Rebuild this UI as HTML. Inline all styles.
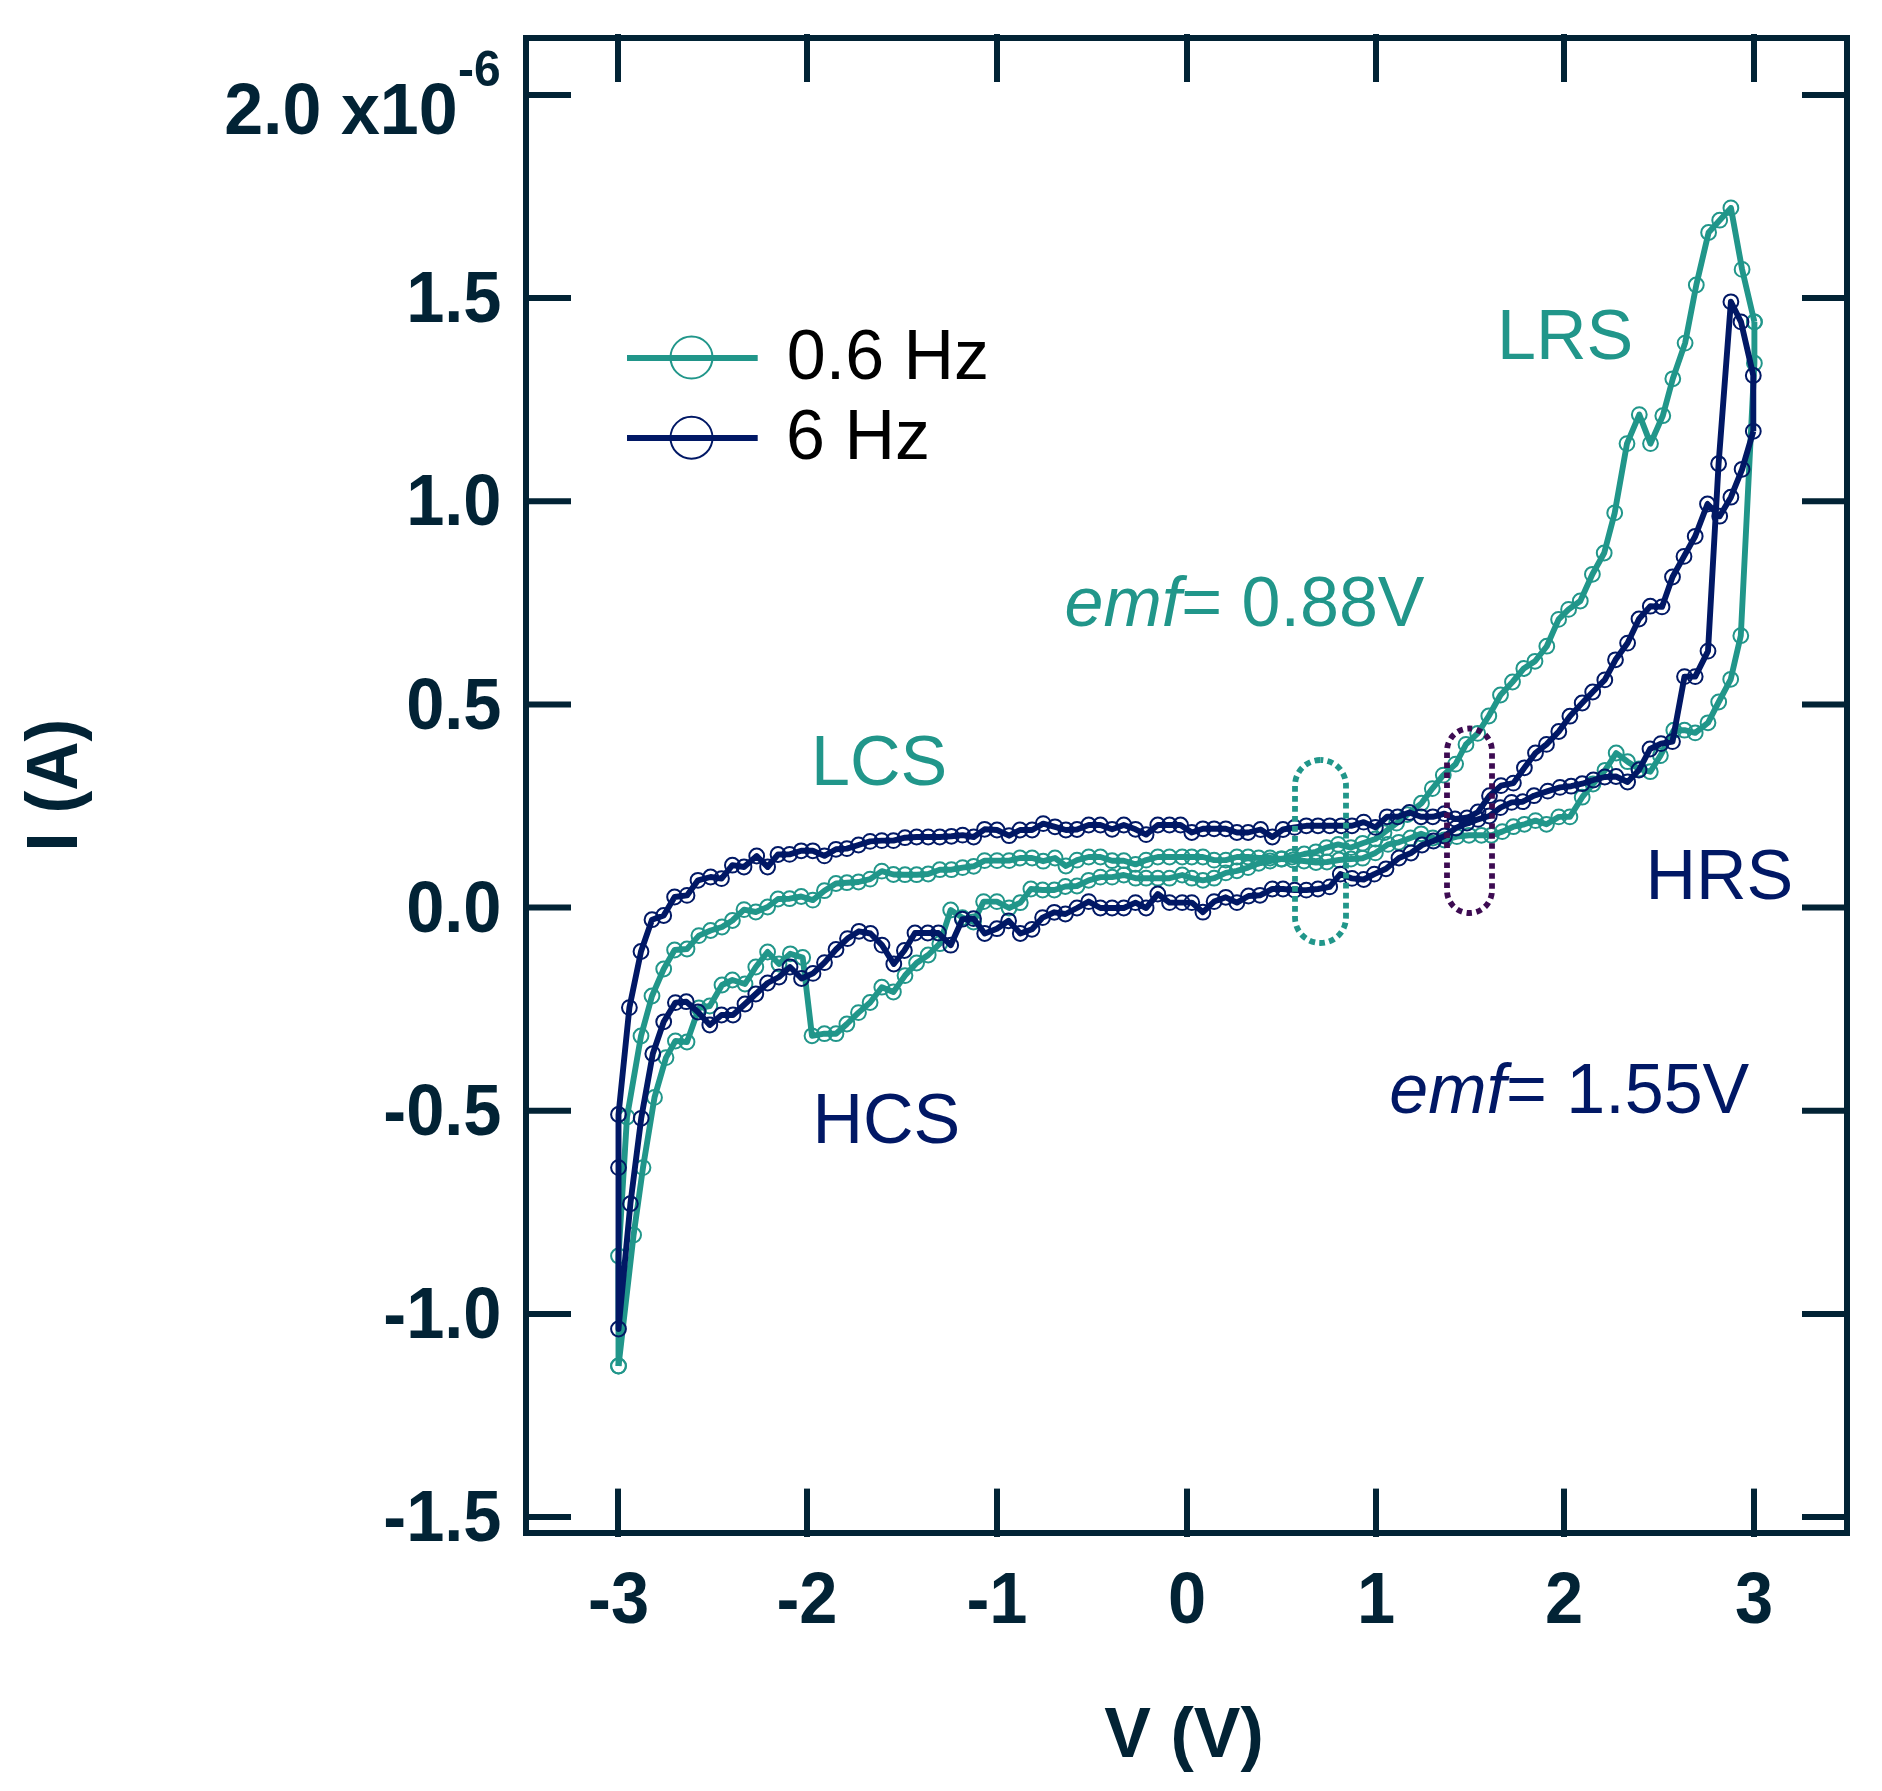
<!DOCTYPE html>
<html><head><meta charset="utf-8"><title>I-V curve</title>
<style>html,body{margin:0;padding:0;background:#fff;overflow:hidden}svg{display:block}</style>
</head><body>
<svg width="1882" height="1791" viewBox="0 0 1882 1791">
<rect width="1882" height="1791" fill="#fff"/>
<g>
<polyline points="1754.4,321.9 1742.1,269.4 1730.9,207.9 1719.7,220.2 1708.6,232.5 1696.3,285.0 1685.1,343.1 1672.8,378.8 1662.8,415.7 1650.5,443.6 1639.3,414.6 1627.0,443.6 1614.7,512.9 1604.2,553.0 1592.4,574.3 1580.3,601.0 1568.6,609.4 1558.6,619.4 1546.8,646.2 1535.0,661.3 1523.8,668.5 1512.5,682.0 1500.5,695.0 1488.8,716.0 1477.7,733.4 1466.0,744.4 1455.6,764.1 1443.3,775.1 1432.3,788.6 1421.5,803.2 1407.3,814.6 1396.6,823.1 1384.0,832.7 1375.4,839.0 1362.6,843.3 1351.0,847.6 1338.2,844.4 1326.5,847.6 1315.9,851.8 1304.2,854.0 1292.0,857.0 1281.0,859.0 1270.0,861.0 1258.7,863.3 1248.1,867.6 1236.9,870.8 1225.8,872.9 1214.1,878.2 1202.9,880.3 1191.8,878.2 1182.2,875.0 1169.5,878.2 1157.8,878.2 1146.1,878.2 1135.5,878.2 1123.8,875.0 1112.1,877.1 1100.4,877.1 1088.7,880.3 1077.0,886.0 1065.3,886.5 1054.3,890.0 1042.6,890.0 1030.9,889.0 1020.3,902.7 1009.1,908.0 996.9,901.6 983.6,901.6 973.5,922.0 962.4,917.6 950.7,910.0 939.8,943.7 928.2,955.0 916.6,963.0 905.0,975.6 893.4,992.0 881.8,987.2 870.1,1002.5 858.5,1012.6 846.9,1024.0 836.0,1033.7 824.4,1033.7 812.0,1035.8 802.7,957.5 790.3,953.8 779.0,964.0 767.6,952.0 755.8,967.0 745.0,984.0 732.4,980.0 722.0,985.0 709.8,1006.0 698.9,1008.0 687.0,1042.0 675.4,1041.0 666.0,1057.6 654.5,1097.4 643.0,1167.6 633.6,1235.0 618.5,1366.0" fill="none" stroke="#21968a" stroke-width="5.9" stroke-linejoin="round" stroke-linecap="butt"/><g fill="none" stroke="#21968a" stroke-width="2.0"><circle cx="1754.4" cy="321.9" r="7.4"/><circle cx="1742.1" cy="269.4" r="7.4"/><circle cx="1730.9" cy="207.9" r="7.4"/><circle cx="1719.7" cy="220.2" r="7.4"/><circle cx="1708.6" cy="232.5" r="7.4"/><circle cx="1696.3" cy="285.0" r="7.4"/><circle cx="1685.1" cy="343.1" r="7.4"/><circle cx="1672.8" cy="378.8" r="7.4"/><circle cx="1662.8" cy="415.7" r="7.4"/><circle cx="1650.5" cy="443.6" r="7.4"/><circle cx="1639.3" cy="414.6" r="7.4"/><circle cx="1627.0" cy="443.6" r="7.4"/><circle cx="1614.7" cy="512.9" r="7.4"/><circle cx="1604.2" cy="553.0" r="7.4"/><circle cx="1592.4" cy="574.3" r="7.4"/><circle cx="1580.3" cy="601.0" r="7.4"/><circle cx="1568.6" cy="609.4" r="7.4"/><circle cx="1558.6" cy="619.4" r="7.4"/><circle cx="1546.8" cy="646.2" r="7.4"/><circle cx="1535.0" cy="661.3" r="7.4"/><circle cx="1523.8" cy="668.5" r="7.4"/><circle cx="1512.5" cy="682.0" r="7.4"/><circle cx="1500.5" cy="695.0" r="7.4"/><circle cx="1488.8" cy="716.0" r="7.4"/><circle cx="1477.7" cy="733.4" r="7.4"/><circle cx="1466.0" cy="744.4" r="7.4"/><circle cx="1455.6" cy="764.1" r="7.4"/><circle cx="1443.3" cy="775.1" r="7.4"/><circle cx="1432.3" cy="788.6" r="7.4"/><circle cx="1421.5" cy="803.2" r="7.4"/><circle cx="1407.3" cy="814.6" r="7.4"/><circle cx="1396.6" cy="823.1" r="7.4"/><circle cx="1384.0" cy="832.7" r="7.4"/><circle cx="1375.4" cy="839.0" r="7.4"/><circle cx="1362.6" cy="843.3" r="7.4"/><circle cx="1351.0" cy="847.6" r="7.4"/><circle cx="1338.2" cy="844.4" r="7.4"/><circle cx="1326.5" cy="847.6" r="7.4"/><circle cx="1315.9" cy="851.8" r="7.4"/><circle cx="1304.2" cy="854.0" r="7.4"/><circle cx="1292.0" cy="857.0" r="7.4"/><circle cx="1281.0" cy="859.0" r="7.4"/><circle cx="1270.0" cy="861.0" r="7.4"/><circle cx="1258.7" cy="863.3" r="7.4"/><circle cx="1248.1" cy="867.6" r="7.4"/><circle cx="1236.9" cy="870.8" r="7.4"/><circle cx="1225.8" cy="872.9" r="7.4"/><circle cx="1214.1" cy="878.2" r="7.4"/><circle cx="1202.9" cy="880.3" r="7.4"/><circle cx="1191.8" cy="878.2" r="7.4"/><circle cx="1182.2" cy="875.0" r="7.4"/><circle cx="1169.5" cy="878.2" r="7.4"/><circle cx="1157.8" cy="878.2" r="7.4"/><circle cx="1146.1" cy="878.2" r="7.4"/><circle cx="1135.5" cy="878.2" r="7.4"/><circle cx="1123.8" cy="875.0" r="7.4"/><circle cx="1112.1" cy="877.1" r="7.4"/><circle cx="1100.4" cy="877.1" r="7.4"/><circle cx="1088.7" cy="880.3" r="7.4"/><circle cx="1077.0" cy="886.0" r="7.4"/><circle cx="1065.3" cy="886.5" r="7.4"/><circle cx="1054.3" cy="890.0" r="7.4"/><circle cx="1042.6" cy="890.0" r="7.4"/><circle cx="1030.9" cy="889.0" r="7.4"/><circle cx="1020.3" cy="902.7" r="7.4"/><circle cx="1009.1" cy="908.0" r="7.4"/><circle cx="996.9" cy="901.6" r="7.4"/><circle cx="983.6" cy="901.6" r="7.4"/><circle cx="973.5" cy="922.0" r="7.4"/><circle cx="962.4" cy="917.6" r="7.4"/><circle cx="950.7" cy="910.0" r="7.4"/><circle cx="939.8" cy="943.7" r="7.4"/><circle cx="928.2" cy="955.0" r="7.4"/><circle cx="916.6" cy="963.0" r="7.4"/><circle cx="905.0" cy="975.6" r="7.4"/><circle cx="893.4" cy="992.0" r="7.4"/><circle cx="881.8" cy="987.2" r="7.4"/><circle cx="870.1" cy="1002.5" r="7.4"/><circle cx="858.5" cy="1012.6" r="7.4"/><circle cx="846.9" cy="1024.0" r="7.4"/><circle cx="836.0" cy="1033.7" r="7.4"/><circle cx="824.4" cy="1033.7" r="7.4"/><circle cx="812.0" cy="1035.8" r="7.4"/><circle cx="802.7" cy="957.5" r="7.4"/><circle cx="790.3" cy="953.8" r="7.4"/><circle cx="779.0" cy="964.0" r="7.4"/><circle cx="767.6" cy="952.0" r="7.4"/><circle cx="755.8" cy="967.0" r="7.4"/><circle cx="745.0" cy="984.0" r="7.4"/><circle cx="732.4" cy="980.0" r="7.4"/><circle cx="722.0" cy="985.0" r="7.4"/><circle cx="709.8" cy="1006.0" r="7.4"/><circle cx="698.9" cy="1008.0" r="7.4"/><circle cx="687.0" cy="1042.0" r="7.4"/><circle cx="675.4" cy="1041.0" r="7.4"/><circle cx="666.0" cy="1057.6" r="7.4"/><circle cx="654.5" cy="1097.4" r="7.4"/><circle cx="643.0" cy="1167.6" r="7.4"/><circle cx="633.6" cy="1235.0" r="7.4"/><circle cx="618.5" cy="1366.0" r="7.4"/></g>
<polyline points="1754.4,321.9 1754.4,363.2 1740.8,635.7 1730.7,679.3 1718.7,702.0 1708.0,722.8 1695.2,732.9 1684.5,730.2 1673.8,730.2 1660.4,755.6 1650.3,771.7 1639.0,769.0 1627.6,761.7 1616.2,753.0 1605.0,770.3 1593.0,784.0 1582.2,797.2 1569.9,816.9 1558.8,816.9 1546.5,824.3 1535.5,820.6 1524.4,824.3 1513.4,826.7 1502.3,831.6 1491.3,835.3 1481.4,835.3 1469.0,835.3 1456.9,836.6 1444.5,840.0 1432.8,838.0 1421.1,833.8 1410.5,838.0 1398.8,842.3 1388.0,844.4 1375.4,852.9 1362.6,858.2 1351.0,859.0 1339.0,860.0 1327.0,862.0 1316.0,862.5 1304.0,861.0 1293.0,860.0 1282.0,859.0 1270.0,858.0 1258.7,858.0 1248.1,857.0 1236.9,857.0 1225.8,860.1 1214.1,860.1 1202.9,857.0 1191.8,857.0 1182.2,857.0 1169.5,857.0 1157.8,857.0 1146.1,860.1 1135.5,864.4 1123.8,860.7 1112.1,860.7 1100.4,857.0 1088.7,857.0 1077.0,860.1 1065.9,866.0 1055.0,858.0 1043.2,861.2 1032.1,858.0 1020.0,858.0 1009.1,860.6 997.0,860.6 984.6,860.6 973.7,866.3 962.6,867.6 951.4,869.7 939.8,869.7 928.2,874.0 916.6,874.7 905.0,874.7 893.4,874.5 881.8,871.1 870.1,879.1 858.5,882.0 846.9,882.7 836.0,883.5 824.4,890.7 812.8,900.1 801.2,896.5 789.6,898.7 778.0,899.0 767.6,907.0 755.8,912.0 744.0,909.6 732.4,920.5 722.0,927.0 710.6,930.5 698.9,935.6 687.0,949.0 674.6,950.0 663.7,969.0 652.0,996.0 641.0,1036.0 627.0,1117.0 618.5,1256.0 618.5,1366.0" fill="none" stroke="#21968a" stroke-width="5.9" stroke-linejoin="round" stroke-linecap="butt"/><g fill="none" stroke="#21968a" stroke-width="2.0"><circle cx="1754.4" cy="321.9" r="7.4"/><circle cx="1754.4" cy="363.2" r="7.4"/><circle cx="1740.8" cy="635.7" r="7.4"/><circle cx="1730.7" cy="679.3" r="7.4"/><circle cx="1718.7" cy="702.0" r="7.4"/><circle cx="1708.0" cy="722.8" r="7.4"/><circle cx="1695.2" cy="732.9" r="7.4"/><circle cx="1684.5" cy="730.2" r="7.4"/><circle cx="1673.8" cy="730.2" r="7.4"/><circle cx="1660.4" cy="755.6" r="7.4"/><circle cx="1650.3" cy="771.7" r="7.4"/><circle cx="1639.0" cy="769.0" r="7.4"/><circle cx="1627.6" cy="761.7" r="7.4"/><circle cx="1616.2" cy="753.0" r="7.4"/><circle cx="1605.0" cy="770.3" r="7.4"/><circle cx="1593.0" cy="784.0" r="7.4"/><circle cx="1582.2" cy="797.2" r="7.4"/><circle cx="1569.9" cy="816.9" r="7.4"/><circle cx="1558.8" cy="816.9" r="7.4"/><circle cx="1546.5" cy="824.3" r="7.4"/><circle cx="1535.5" cy="820.6" r="7.4"/><circle cx="1524.4" cy="824.3" r="7.4"/><circle cx="1513.4" cy="826.7" r="7.4"/><circle cx="1502.3" cy="831.6" r="7.4"/><circle cx="1491.3" cy="835.3" r="7.4"/><circle cx="1481.4" cy="835.3" r="7.4"/><circle cx="1469.0" cy="835.3" r="7.4"/><circle cx="1456.9" cy="836.6" r="7.4"/><circle cx="1444.5" cy="840.0" r="7.4"/><circle cx="1432.8" cy="838.0" r="7.4"/><circle cx="1421.1" cy="833.8" r="7.4"/><circle cx="1410.5" cy="838.0" r="7.4"/><circle cx="1398.8" cy="842.3" r="7.4"/><circle cx="1388.0" cy="844.4" r="7.4"/><circle cx="1375.4" cy="852.9" r="7.4"/><circle cx="1362.6" cy="858.2" r="7.4"/><circle cx="1351.0" cy="859.0" r="7.4"/><circle cx="1339.0" cy="860.0" r="7.4"/><circle cx="1327.0" cy="862.0" r="7.4"/><circle cx="1316.0" cy="862.5" r="7.4"/><circle cx="1304.0" cy="861.0" r="7.4"/><circle cx="1293.0" cy="860.0" r="7.4"/><circle cx="1282.0" cy="859.0" r="7.4"/><circle cx="1270.0" cy="858.0" r="7.4"/><circle cx="1258.7" cy="858.0" r="7.4"/><circle cx="1248.1" cy="857.0" r="7.4"/><circle cx="1236.9" cy="857.0" r="7.4"/><circle cx="1225.8" cy="860.1" r="7.4"/><circle cx="1214.1" cy="860.1" r="7.4"/><circle cx="1202.9" cy="857.0" r="7.4"/><circle cx="1191.8" cy="857.0" r="7.4"/><circle cx="1182.2" cy="857.0" r="7.4"/><circle cx="1169.5" cy="857.0" r="7.4"/><circle cx="1157.8" cy="857.0" r="7.4"/><circle cx="1146.1" cy="860.1" r="7.4"/><circle cx="1135.5" cy="864.4" r="7.4"/><circle cx="1123.8" cy="860.7" r="7.4"/><circle cx="1112.1" cy="860.7" r="7.4"/><circle cx="1100.4" cy="857.0" r="7.4"/><circle cx="1088.7" cy="857.0" r="7.4"/><circle cx="1077.0" cy="860.1" r="7.4"/><circle cx="1065.9" cy="866.0" r="7.4"/><circle cx="1055.0" cy="858.0" r="7.4"/><circle cx="1043.2" cy="861.2" r="7.4"/><circle cx="1032.1" cy="858.0" r="7.4"/><circle cx="1020.0" cy="858.0" r="7.4"/><circle cx="1009.1" cy="860.6" r="7.4"/><circle cx="997.0" cy="860.6" r="7.4"/><circle cx="984.6" cy="860.6" r="7.4"/><circle cx="973.7" cy="866.3" r="7.4"/><circle cx="962.6" cy="867.6" r="7.4"/><circle cx="951.4" cy="869.7" r="7.4"/><circle cx="939.8" cy="869.7" r="7.4"/><circle cx="928.2" cy="874.0" r="7.4"/><circle cx="916.6" cy="874.7" r="7.4"/><circle cx="905.0" cy="874.7" r="7.4"/><circle cx="893.4" cy="874.5" r="7.4"/><circle cx="881.8" cy="871.1" r="7.4"/><circle cx="870.1" cy="879.1" r="7.4"/><circle cx="858.5" cy="882.0" r="7.4"/><circle cx="846.9" cy="882.7" r="7.4"/><circle cx="836.0" cy="883.5" r="7.4"/><circle cx="824.4" cy="890.7" r="7.4"/><circle cx="812.8" cy="900.1" r="7.4"/><circle cx="801.2" cy="896.5" r="7.4"/><circle cx="789.6" cy="898.7" r="7.4"/><circle cx="778.0" cy="899.0" r="7.4"/><circle cx="767.6" cy="907.0" r="7.4"/><circle cx="755.8" cy="912.0" r="7.4"/><circle cx="744.0" cy="909.6" r="7.4"/><circle cx="732.4" cy="920.5" r="7.4"/><circle cx="722.0" cy="927.0" r="7.4"/><circle cx="710.6" cy="930.5" r="7.4"/><circle cx="698.9" cy="935.6" r="7.4"/><circle cx="687.0" cy="949.0" r="7.4"/><circle cx="674.6" cy="950.0" r="7.4"/><circle cx="663.7" cy="969.0" r="7.4"/><circle cx="652.0" cy="996.0" r="7.4"/><circle cx="641.0" cy="1036.0" r="7.4"/><circle cx="627.0" cy="1117.0" r="7.4"/><circle cx="618.5" cy="1256.0" r="7.4"/><circle cx="618.5" cy="1366.0" r="7.4"/></g>
<polyline points="1753.3,431.3 1742.1,469.3 1730.9,497.2 1719.7,516.2 1707.5,504.0 1695.2,536.3 1684.0,556.4 1672.5,577.0 1662.0,606.9 1650.3,606.2 1639.0,619.0 1627.6,643.1 1615.5,659.8 1604.8,679.9 1592.7,692.0 1582.2,703.0 1569.9,716.2 1558.8,731.5 1546.5,744.4 1535.5,753.0 1524.4,767.8 1513.4,783.1 1501.0,785.6 1489.5,795.7 1478.0,812.0 1467.0,818.0 1455.0,819.0 1444.5,813.6 1432.8,816.8 1421.1,816.8 1409.4,812.5 1397.7,816.8 1387.0,816.8 1375.4,827.4 1363.7,822.1 1352.0,825.8 1341.4,825.8 1329.7,825.8 1318.0,825.8 1306.3,825.8 1294.6,827.4 1283.0,829.5 1272.3,837.0 1260.6,829.5 1248.1,832.5 1236.9,832.5 1225.8,828.8 1214.1,828.8 1202.9,828.8 1191.8,832.5 1180.5,825.0 1169.5,825.0 1157.8,825.0 1146.1,834.6 1135.5,829.3 1123.8,825.0 1112.1,829.3 1100.4,825.0 1088.7,825.0 1077.0,829.5 1065.9,830.0 1055.0,826.8 1043.2,823.6 1032.1,830.0 1020.0,830.0 1009.1,835.7 997.0,830.0 984.6,829.3 973.7,837.0 962.6,835.1 951.4,836.3 939.8,837.0 928.2,837.0 916.6,837.0 905.0,837.7 893.4,840.6 881.8,840.6 870.1,841.4 858.5,845.0 846.9,848.6 836.0,849.3 824.4,855.9 812.8,850.8 801.2,850.8 789.6,854.4 778.0,854.5 767.6,867.0 756.7,856.0 744.0,867.0 732.4,865.2 721.5,878.6 710.6,877.0 698.0,880.3 687.0,895.4 674.6,897.0 663.7,915.5 652.0,919.7 641.0,951.5 629.4,1007.6 618.5,1114.5 618.5,1167.6 618.5,1329.0 630.4,1203.7 641.2,1118.3 652.8,1053.7 663.7,1021.8 675.4,1002.6 686.3,1001.7 698.0,1012.0 709.8,1025.0 721.5,1015.0 733.0,1015.0 745.0,1004.0 755.8,994.0 767.6,983.0 779.0,977.0 790.0,967.0 801.5,978.5 813.0,973.4 824.5,962.6 836.0,949.5 847.5,938.6 859.0,931.3 870.5,933.5 882.0,945.1 893.8,964.0 904.4,950.5 915.0,933.0 927.8,933.0 938.4,933.0 950.7,945.2 962.4,919.2 973.5,918.6 984.7,933.5 996.9,928.7 1008.6,920.8 1020.3,933.5 1032.0,929.3 1042.6,917.6 1054.3,912.3 1065.4,914.0 1077.0,908.0 1088.7,901.6 1100.4,908.0 1112.1,908.0 1123.8,908.0 1135.5,902.6 1146.1,908.0 1157.8,894.0 1169.5,902.6 1182.2,902.6 1191.8,902.6 1202.9,912.2 1214.1,901.6 1225.8,897.3 1236.9,902.6 1248.5,896.0 1260.0,895.3 1272.3,889.0 1283.0,889.0 1294.6,890.1 1306.3,890.1 1318.0,889.0 1329.7,886.9 1340.3,874.1 1352.0,878.4 1363.7,879.5 1374.3,874.1 1386.0,868.8 1399.0,858.0 1411.0,853.0 1422.0,845.0 1433.5,841.0 1444.5,836.0 1456.0,828.0 1467.0,823.0 1478.0,819.4 1489.3,816.0 1500.4,807.6 1511.6,802.4 1522.8,801.7 1534.0,795.7 1547.8,791.1 1560.0,787.4 1571.1,786.2 1582.2,783.7 1593.4,780.0 1604.8,777.0 1616.0,776.5 1627.6,782.0 1639.0,770.0 1650.0,749.0 1661.0,743.6 1672.5,741.6 1684.5,676.6 1695.2,676.6 1708.0,651.1 1718.6,463.7 1730.9,301.8 1741.0,321.9 1753.3,375.5 1753.3,431.3" fill="none" stroke="#011865" stroke-width="5.9" stroke-linejoin="round" stroke-linecap="butt"/><g fill="none" stroke="#011865" stroke-width="2.0"><circle cx="1753.3" cy="431.3" r="7.4"/><circle cx="1742.1" cy="469.3" r="7.4"/><circle cx="1730.9" cy="497.2" r="7.4"/><circle cx="1719.7" cy="516.2" r="7.4"/><circle cx="1707.5" cy="504.0" r="7.4"/><circle cx="1695.2" cy="536.3" r="7.4"/><circle cx="1684.0" cy="556.4" r="7.4"/><circle cx="1672.5" cy="577.0" r="7.4"/><circle cx="1662.0" cy="606.9" r="7.4"/><circle cx="1650.3" cy="606.2" r="7.4"/><circle cx="1639.0" cy="619.0" r="7.4"/><circle cx="1627.6" cy="643.1" r="7.4"/><circle cx="1615.5" cy="659.8" r="7.4"/><circle cx="1604.8" cy="679.9" r="7.4"/><circle cx="1592.7" cy="692.0" r="7.4"/><circle cx="1582.2" cy="703.0" r="7.4"/><circle cx="1569.9" cy="716.2" r="7.4"/><circle cx="1558.8" cy="731.5" r="7.4"/><circle cx="1546.5" cy="744.4" r="7.4"/><circle cx="1535.5" cy="753.0" r="7.4"/><circle cx="1524.4" cy="767.8" r="7.4"/><circle cx="1513.4" cy="783.1" r="7.4"/><circle cx="1501.0" cy="785.6" r="7.4"/><circle cx="1489.5" cy="795.7" r="7.4"/><circle cx="1478.0" cy="812.0" r="7.4"/><circle cx="1467.0" cy="818.0" r="7.4"/><circle cx="1455.0" cy="819.0" r="7.4"/><circle cx="1444.5" cy="813.6" r="7.4"/><circle cx="1432.8" cy="816.8" r="7.4"/><circle cx="1421.1" cy="816.8" r="7.4"/><circle cx="1409.4" cy="812.5" r="7.4"/><circle cx="1397.7" cy="816.8" r="7.4"/><circle cx="1387.0" cy="816.8" r="7.4"/><circle cx="1375.4" cy="827.4" r="7.4"/><circle cx="1363.7" cy="822.1" r="7.4"/><circle cx="1352.0" cy="825.8" r="7.4"/><circle cx="1341.4" cy="825.8" r="7.4"/><circle cx="1329.7" cy="825.8" r="7.4"/><circle cx="1318.0" cy="825.8" r="7.4"/><circle cx="1306.3" cy="825.8" r="7.4"/><circle cx="1294.6" cy="827.4" r="7.4"/><circle cx="1283.0" cy="829.5" r="7.4"/><circle cx="1272.3" cy="837.0" r="7.4"/><circle cx="1260.6" cy="829.5" r="7.4"/><circle cx="1248.1" cy="832.5" r="7.4"/><circle cx="1236.9" cy="832.5" r="7.4"/><circle cx="1225.8" cy="828.8" r="7.4"/><circle cx="1214.1" cy="828.8" r="7.4"/><circle cx="1202.9" cy="828.8" r="7.4"/><circle cx="1191.8" cy="832.5" r="7.4"/><circle cx="1180.5" cy="825.0" r="7.4"/><circle cx="1169.5" cy="825.0" r="7.4"/><circle cx="1157.8" cy="825.0" r="7.4"/><circle cx="1146.1" cy="834.6" r="7.4"/><circle cx="1135.5" cy="829.3" r="7.4"/><circle cx="1123.8" cy="825.0" r="7.4"/><circle cx="1112.1" cy="829.3" r="7.4"/><circle cx="1100.4" cy="825.0" r="7.4"/><circle cx="1088.7" cy="825.0" r="7.4"/><circle cx="1077.0" cy="829.5" r="7.4"/><circle cx="1065.9" cy="830.0" r="7.4"/><circle cx="1055.0" cy="826.8" r="7.4"/><circle cx="1043.2" cy="823.6" r="7.4"/><circle cx="1032.1" cy="830.0" r="7.4"/><circle cx="1020.0" cy="830.0" r="7.4"/><circle cx="1009.1" cy="835.7" r="7.4"/><circle cx="997.0" cy="830.0" r="7.4"/><circle cx="984.6" cy="829.3" r="7.4"/><circle cx="973.7" cy="837.0" r="7.4"/><circle cx="962.6" cy="835.1" r="7.4"/><circle cx="951.4" cy="836.3" r="7.4"/><circle cx="939.8" cy="837.0" r="7.4"/><circle cx="928.2" cy="837.0" r="7.4"/><circle cx="916.6" cy="837.0" r="7.4"/><circle cx="905.0" cy="837.7" r="7.4"/><circle cx="893.4" cy="840.6" r="7.4"/><circle cx="881.8" cy="840.6" r="7.4"/><circle cx="870.1" cy="841.4" r="7.4"/><circle cx="858.5" cy="845.0" r="7.4"/><circle cx="846.9" cy="848.6" r="7.4"/><circle cx="836.0" cy="849.3" r="7.4"/><circle cx="824.4" cy="855.9" r="7.4"/><circle cx="812.8" cy="850.8" r="7.4"/><circle cx="801.2" cy="850.8" r="7.4"/><circle cx="789.6" cy="854.4" r="7.4"/><circle cx="778.0" cy="854.5" r="7.4"/><circle cx="767.6" cy="867.0" r="7.4"/><circle cx="756.7" cy="856.0" r="7.4"/><circle cx="744.0" cy="867.0" r="7.4"/><circle cx="732.4" cy="865.2" r="7.4"/><circle cx="721.5" cy="878.6" r="7.4"/><circle cx="710.6" cy="877.0" r="7.4"/><circle cx="698.0" cy="880.3" r="7.4"/><circle cx="687.0" cy="895.4" r="7.4"/><circle cx="674.6" cy="897.0" r="7.4"/><circle cx="663.7" cy="915.5" r="7.4"/><circle cx="652.0" cy="919.7" r="7.4"/><circle cx="641.0" cy="951.5" r="7.4"/><circle cx="629.4" cy="1007.6" r="7.4"/><circle cx="618.5" cy="1114.5" r="7.4"/><circle cx="618.5" cy="1167.6" r="7.4"/><circle cx="618.5" cy="1329.0" r="7.4"/><circle cx="630.4" cy="1203.7" r="7.4"/><circle cx="641.2" cy="1118.3" r="7.4"/><circle cx="652.8" cy="1053.7" r="7.4"/><circle cx="663.7" cy="1021.8" r="7.4"/><circle cx="675.4" cy="1002.6" r="7.4"/><circle cx="686.3" cy="1001.7" r="7.4"/><circle cx="698.0" cy="1012.0" r="7.4"/><circle cx="709.8" cy="1025.0" r="7.4"/><circle cx="721.5" cy="1015.0" r="7.4"/><circle cx="733.0" cy="1015.0" r="7.4"/><circle cx="745.0" cy="1004.0" r="7.4"/><circle cx="755.8" cy="994.0" r="7.4"/><circle cx="767.6" cy="983.0" r="7.4"/><circle cx="779.0" cy="977.0" r="7.4"/><circle cx="790.0" cy="967.0" r="7.4"/><circle cx="801.5" cy="978.5" r="7.4"/><circle cx="813.0" cy="973.4" r="7.4"/><circle cx="824.5" cy="962.6" r="7.4"/><circle cx="836.0" cy="949.5" r="7.4"/><circle cx="847.5" cy="938.6" r="7.4"/><circle cx="859.0" cy="931.3" r="7.4"/><circle cx="870.5" cy="933.5" r="7.4"/><circle cx="882.0" cy="945.1" r="7.4"/><circle cx="893.8" cy="964.0" r="7.4"/><circle cx="904.4" cy="950.5" r="7.4"/><circle cx="915.0" cy="933.0" r="7.4"/><circle cx="927.8" cy="933.0" r="7.4"/><circle cx="938.4" cy="933.0" r="7.4"/><circle cx="950.7" cy="945.2" r="7.4"/><circle cx="962.4" cy="919.2" r="7.4"/><circle cx="973.5" cy="918.6" r="7.4"/><circle cx="984.7" cy="933.5" r="7.4"/><circle cx="996.9" cy="928.7" r="7.4"/><circle cx="1008.6" cy="920.8" r="7.4"/><circle cx="1020.3" cy="933.5" r="7.4"/><circle cx="1032.0" cy="929.3" r="7.4"/><circle cx="1042.6" cy="917.6" r="7.4"/><circle cx="1054.3" cy="912.3" r="7.4"/><circle cx="1065.4" cy="914.0" r="7.4"/><circle cx="1077.0" cy="908.0" r="7.4"/><circle cx="1088.7" cy="901.6" r="7.4"/><circle cx="1100.4" cy="908.0" r="7.4"/><circle cx="1112.1" cy="908.0" r="7.4"/><circle cx="1123.8" cy="908.0" r="7.4"/><circle cx="1135.5" cy="902.6" r="7.4"/><circle cx="1146.1" cy="908.0" r="7.4"/><circle cx="1157.8" cy="894.0" r="7.4"/><circle cx="1169.5" cy="902.6" r="7.4"/><circle cx="1182.2" cy="902.6" r="7.4"/><circle cx="1191.8" cy="902.6" r="7.4"/><circle cx="1202.9" cy="912.2" r="7.4"/><circle cx="1214.1" cy="901.6" r="7.4"/><circle cx="1225.8" cy="897.3" r="7.4"/><circle cx="1236.9" cy="902.6" r="7.4"/><circle cx="1248.5" cy="896.0" r="7.4"/><circle cx="1260.0" cy="895.3" r="7.4"/><circle cx="1272.3" cy="889.0" r="7.4"/><circle cx="1283.0" cy="889.0" r="7.4"/><circle cx="1294.6" cy="890.1" r="7.4"/><circle cx="1306.3" cy="890.1" r="7.4"/><circle cx="1318.0" cy="889.0" r="7.4"/><circle cx="1329.7" cy="886.9" r="7.4"/><circle cx="1340.3" cy="874.1" r="7.4"/><circle cx="1352.0" cy="878.4" r="7.4"/><circle cx="1363.7" cy="879.5" r="7.4"/><circle cx="1374.3" cy="874.1" r="7.4"/><circle cx="1386.0" cy="868.8" r="7.4"/><circle cx="1399.0" cy="858.0" r="7.4"/><circle cx="1411.0" cy="853.0" r="7.4"/><circle cx="1422.0" cy="845.0" r="7.4"/><circle cx="1433.5" cy="841.0" r="7.4"/><circle cx="1444.5" cy="836.0" r="7.4"/><circle cx="1456.0" cy="828.0" r="7.4"/><circle cx="1467.0" cy="823.0" r="7.4"/><circle cx="1478.0" cy="819.4" r="7.4"/><circle cx="1489.3" cy="816.0" r="7.4"/><circle cx="1500.4" cy="807.6" r="7.4"/><circle cx="1511.6" cy="802.4" r="7.4"/><circle cx="1522.8" cy="801.7" r="7.4"/><circle cx="1534.0" cy="795.7" r="7.4"/><circle cx="1547.8" cy="791.1" r="7.4"/><circle cx="1560.0" cy="787.4" r="7.4"/><circle cx="1571.1" cy="786.2" r="7.4"/><circle cx="1582.2" cy="783.7" r="7.4"/><circle cx="1593.4" cy="780.0" r="7.4"/><circle cx="1604.8" cy="777.0" r="7.4"/><circle cx="1616.0" cy="776.5" r="7.4"/><circle cx="1627.6" cy="782.0" r="7.4"/><circle cx="1639.0" cy="770.0" r="7.4"/><circle cx="1650.0" cy="749.0" r="7.4"/><circle cx="1661.0" cy="743.6" r="7.4"/><circle cx="1672.5" cy="741.6" r="7.4"/><circle cx="1684.5" cy="676.6" r="7.4"/><circle cx="1695.2" cy="676.6" r="7.4"/><circle cx="1708.0" cy="651.1" r="7.4"/><circle cx="1718.6" cy="463.7" r="7.4"/><circle cx="1730.9" cy="301.8" r="7.4"/><circle cx="1741.0" cy="321.9" r="7.4"/><circle cx="1753.3" cy="375.5" r="7.4"/></g>
</g>
<rect x="1295" y="760" width="51" height="183" rx="25.5" ry="25.5" fill="none" stroke="#21968a" stroke-width="5.8" stroke-dasharray="5.8 4.2" stroke-dashoffset="2.9"/>
<rect x="1447" y="728.5" width="45" height="184.5" rx="22.5" ry="22.5" fill="none" stroke="#3d0b52" stroke-width="5.8" stroke-dasharray="5.5 4.5" stroke-dashoffset="2.75"/>
<g stroke="#022335" stroke-width="6" fill="none">
<rect x="526" y="38" width="1321" height="1495"/>
<line x1="618" y1="1488.6" x2="618" y2="1537"/><line x1="618" y1="34" x2="618" y2="82"/><line x1="807" y1="1488.6" x2="807" y2="1537"/><line x1="807" y1="34" x2="807" y2="82"/><line x1="997" y1="1488.6" x2="997" y2="1537"/><line x1="997" y1="34" x2="997" y2="82"/><line x1="1187" y1="1488.6" x2="1187" y2="1537"/><line x1="1187" y1="34" x2="1187" y2="82"/><line x1="1376" y1="1488.6" x2="1376" y2="1537"/><line x1="1376" y1="34" x2="1376" y2="82"/><line x1="1564" y1="1488.6" x2="1564" y2="1537"/><line x1="1564" y1="34" x2="1564" y2="82"/><line x1="1754" y1="1488.6" x2="1754" y2="1537"/><line x1="1754" y1="34" x2="1754" y2="82"/><line x1="523" y1="95" x2="571" y2="95"/><line x1="1802" y1="95" x2="1850" y2="95"/><line x1="523" y1="298.1" x2="571" y2="298.1"/><line x1="1802" y1="298.1" x2="1850" y2="298.1"/><line x1="523" y1="501.3" x2="571" y2="501.3"/><line x1="1802" y1="501.3" x2="1850" y2="501.3"/><line x1="523" y1="704.4" x2="571" y2="704.4"/><line x1="1802" y1="704.4" x2="1850" y2="704.4"/><line x1="523" y1="907.6" x2="571" y2="907.6"/><line x1="1802" y1="907.6" x2="1850" y2="907.6"/><line x1="523" y1="1110.7" x2="571" y2="1110.7"/><line x1="1802" y1="1110.7" x2="1850" y2="1110.7"/><line x1="523" y1="1313.9" x2="571" y2="1313.9"/><line x1="1802" y1="1313.9" x2="1850" y2="1313.9"/><line x1="523" y1="1517" x2="571" y2="1517"/><line x1="1802" y1="1517" x2="1850" y2="1517"/>
</g>
<g font-family="Liberation Sans, Arial, sans-serif" font-weight="bold" font-size="70" fill="#022335">
<text transform="translate(501.5,322.2) scale(0.98,1.025)" text-anchor="end">1.5</text><text transform="translate(501.5,525.4) scale(0.98,1.025)" text-anchor="end">1.0</text><text transform="translate(501.5,728.5) scale(0.98,1.025)" text-anchor="end">0.5</text><text transform="translate(501.5,931.7) scale(0.98,1.025)" text-anchor="end">0.0</text><text transform="translate(501.5,1134.8) scale(0.98,1.025)" text-anchor="end">-0.5</text><text transform="translate(501.5,1338.0) scale(0.98,1.025)" text-anchor="end">-1.0</text><text transform="translate(501.5,1541.1) scale(0.98,1.025)" text-anchor="end">-1.5</text>
<text transform="translate(618.6,1622.5) scale(0.98,1.025)" text-anchor="middle">-3</text><text transform="translate(807,1622.5) scale(0.98,1.025)" text-anchor="middle">-2</text><text transform="translate(997,1622.5) scale(0.98,1.025)" text-anchor="middle">-1</text><text transform="translate(1187,1622.5) scale(0.98,1.025)" text-anchor="middle">0</text><text transform="translate(1376,1622.5) scale(0.98,1.025)" text-anchor="middle">1</text><text transform="translate(1564,1622.5) scale(0.98,1.025)" text-anchor="middle">2</text><text transform="translate(1754,1622.5) scale(0.98,1.025)" text-anchor="middle">3</text>
<text transform="translate(457.7,134) scale(1,1.025)" text-anchor="end">2.0 x10</text>
<text transform="translate(458,85.6) scale(0.95,1)" font-size="50.5">-6</text>
<text x="1184" y="1757" text-anchor="middle">V (V)</text>
<text transform="translate(77,785.1) rotate(-90) scale(0.977,1.02)" text-anchor="middle">I (A)</text>
</g>
<g font-family="Liberation Sans, Arial, sans-serif" font-size="70">
<line x1="627" y1="358" x2="757.7" y2="358" stroke="#21968a" stroke-width="6"/>
<circle cx="691.5" cy="357.5" r="21" fill="none" stroke="#21968a" stroke-width="2"/>
<line x1="627" y1="438" x2="757.7" y2="438" stroke="#011865" stroke-width="6"/>
<circle cx="691.5" cy="437.7" r="21" fill="none" stroke="#011865" stroke-width="2"/>
<text x="786.8" y="379" fill="#000">0.6 Hz</text>
<text x="786" y="458.8" fill="#000">6 Hz</text>
<text x="1497" y="358.7" fill="#21968a">LRS</text>
<text x="811" y="784.8" fill="#21968a">LCS</text>
<text x="1064.6" y="626" fill="#21968a"><tspan font-style="italic">emf</tspan>= 0.88V</text>
<text x="812.4" y="1142.9" fill="#011865">HCS</text>
<text x="1645.5" y="898.9" fill="#011865">HRS</text>
<text x="1389.3" y="1113" fill="#011865"><tspan font-style="italic">emf</tspan>= 1.55V</text>
</g>
</svg>
</body></html>
